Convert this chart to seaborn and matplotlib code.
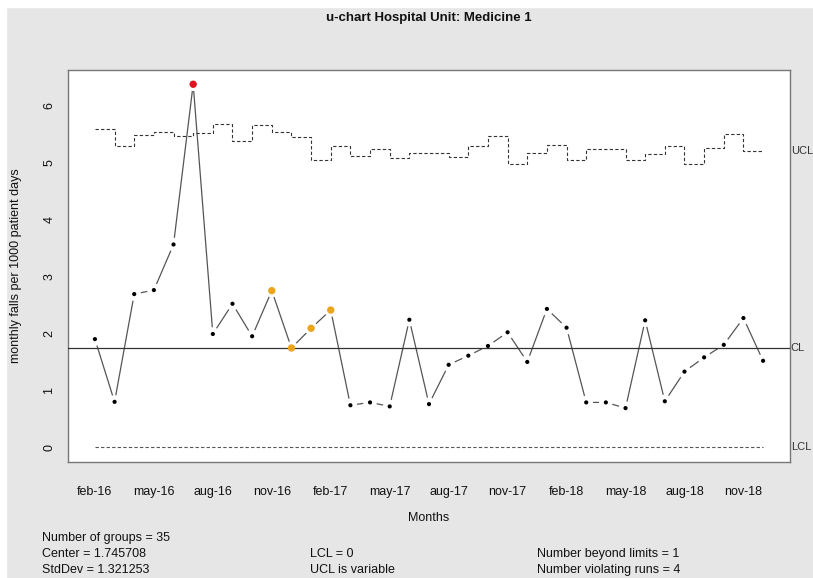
import numpy as np
import pandas as pd
import matplotlib
matplotlib.use("Agg")
import matplotlib.pyplot as plt
import seaborn as sns
from matplotlib.patches import Rectangle
from matplotlib.transforms import blended_transform_factory


# monthly u-chart values (feb-16 .. dec-18)
rates = [1.90, 0.80, 2.69, 2.76, 3.56, 6.37, 1.99, 2.52, 1.95, 2.75,
         1.745, 2.09, 2.41, 0.74, 0.79, 0.72, 2.24, 0.76, 1.45, 1.61,
         1.78, 2.02, 1.50, 2.43, 2.10, 0.79, 0.79, 0.69, 2.23, 0.81,
         1.33, 1.58, 1.80, 2.27, 1.52]
ucl = [5.59, 5.28, 5.48, 5.53, 5.47, 5.52, 5.68, 5.37, 5.66, 5.54,
       5.44, 5.05, 5.29, 5.12, 5.24, 5.08, 5.16, 5.16, 5.10, 5.29,
       5.47, 4.98, 5.16, 5.30, 5.05, 5.24, 5.24, 5.04, 5.15, 5.29,
       4.98, 5.26, 5.49, 5.20, 5.20]
month_labels = ["feb-16", "may-16", "aug-16", "nov-16", "feb-17", "may-17",
                "aug-17", "nov-17", "feb-18", "may-18", "aug-18", "nov-18"]
center = 1.745708
lcl = 0
beyond_idx = [5]
runs_idx = [9, 10, 11, 12]

df = pd.DataFrame({"group": np.arange(len(rates)), "rate": rates, "ucl": ucl})
df["lcl"] = lcl
df["status"] = "ok"
df.loc[runs_idx, "status"] = "run"
df.loc[beyond_idx, "status"] = "beyond"

sns.set_style("white")
plt.rcParams["font.family"] = ["Liberation Sans", "DejaVu Sans"]

W, H = 813, 578
fig = plt.figure(figsize=(W / 100, H / 100), dpi=100, facecolor="#e6e6e6")
# thin white margin on top/left like the screenshot
fig.patches.append(Rectangle((0, 1 - 7 / H), 1, 7 / H, transform=fig.transFigure, color="white", zorder=-1))
fig.patches.append(Rectangle((0, 0), 6 / W, 1, transform=fig.transFigure, color="white", zorder=-1))

ax = fig.add_axes([68 / W, (H - 462) / H, (790 - 68) / W, (462 - 70) / H])
ax.set_facecolor("white")

# data line, then white blobs to cut gaps around points (R type="b")
sns.lineplot(data=df, x="group", y="rate", color="#555555", lw=0.9, ax=ax, zorder=2)
sns.scatterplot(data=df, x="group", y="rate", s=95, color="white", edgecolor="none",
                linewidth=0, ax=ax, zorder=3, legend=False)

# control limits
ax.axhline(center, color="#333333", lw=0.9, zorder=4)
sns.lineplot(data=df, x="group", y="ucl", drawstyle="steps-post", color="#333333",
             lw=0.8, ls=(0, (3, 2)), ax=ax, zorder=4)
sns.lineplot(data=df, x="group", y="lcl", color="#555555", lw=0.8, ls=(0, (3, 2)),
             ax=ax, zorder=4)

sns.scatterplot(data=df, x="group", y="rate", hue="status", size="status",
                palette={"ok": "black", "run": "#eba51c", "beyond": "#e0141e"},
                sizes={"ok": 9, "run": 28, "beyond": 28},
                edgecolor="none", ax=ax, zorder=5, legend=False)

ax.set_xlim(-1.37, 35.37)
ax.set_ylim(-0.255, 6.62)

xt_labels = [""] * len(rates)
xt_labels[::3] = month_labels
ax.set_xticks(df["group"])
ax.set_xticklabels(xt_labels)
ax.set_yticks(range(0, 7))
ax.tick_params(axis="both", which="both", direction="out", length=7, width=0.8,
               color="#555555", labelsize=9, labelcolor="#111111")
ax.tick_params(axis="x", pad=10)
ax.tick_params(axis="y", pad=2)
for lab in ax.get_yticklabels():
    lab.set_rotation(90)
    lab.set_va("center")

for sp in ax.spines.values():
    sp.set_visible(True)
    sp.set_color("#777777")
    sp.set_linewidth(1.0)

ax.set_xlabel("Months", fontsize=9, color="#111111")
ax.set_ylabel("monthly falls per 1000 patient days", fontsize=9, color="#111111")
ax.xaxis.set_label_coords(0.5, (462 - 512) / 392)
ax.yaxis.set_label_coords((22 - 68) / 722, 0.5)

# labels for the limit lines on the right
tr = blended_transform_factory(ax.transAxes, ax.transData)
for yv, name in [(ucl[-1], "UCL"), (center, "CL"), (lcl, "LCL")]:
    ax.text(1.001, yv, name, transform=tr, fontsize=8, va="center", ha="left", color="#333333")

fig.text(429 / W, 1 - 18 / H, "u-chart Hospital Unit: Medicine 1", fontsize=9.5,
         fontweight="bold", ha="center", va="center", color="#111111")

stats = [
    (42, 538, "Number of groups = 35"),
    (42, 554, "Center = 1.745708"),
    (42, 570, "StdDev = 1.321253"),
    (310, 554, "LCL = 0"),
    (310, 570, "UCL is variable"),
    (537, 554, "Number beyond limits = 1"),
    (537, 570, "Number violating runs = 4"),
]
for px, py, txt in stats:
    fig.text(px / W, 1 - py / H, txt, fontsize=9, ha="left", va="center", color="#111111")

fig.savefig("out.png", dpi=100, facecolor=fig.get_facecolor())
